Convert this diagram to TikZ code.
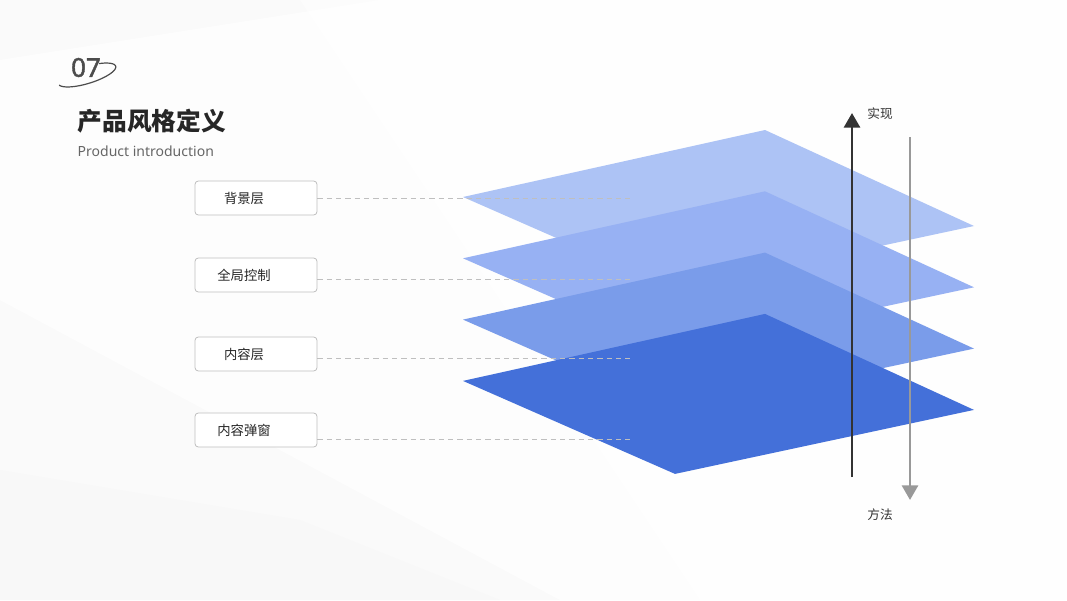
\documentclass[tikz,border=0pt]{standalone}
\usepackage{fontspec}
\setmainfont{Noto Sans CJK SC}
\newfontfamily\latinfont{Noto Sans}
\newfontfamily\numfont[FakeBold=1.6]{Noto Sans}
\usetikzlibrary{arrows.meta}
\definecolor{layerA}{HTML}{ADC3F5}
\definecolor{layerB}{HTML}{97B1F3}
\definecolor{layerC}{HTML}{7A9CEA}
\definecolor{layerD}{HTML}{4470D9}
\definecolor{inkdark}{HTML}{333333}
\definecolor{inkgray}{HTML}{999999}
\tikzset{
  tag/.style={draw=black!25, fill=white, rounded corners=2.5pt, line width=0.6pt,
    minimum width=91.5pt, minimum height=25.5pt,
    label={[font=\fontsize{10}{11}\selectfont, text=black!85, xshift=-9pt]center:#1}},
  guide/.style={draw=black!25, dashed, dash pattern=on 4pt off 3pt, line width=0.5pt},
  sidelabel/.style={font=\fontsize{9.5}{11}\selectfont, text=black!80}
}
\begin{document}
\begin{tikzpicture}[x=0.75pt, y=-0.75pt, >=stealth]
\useasboundingbox (0,0) rectangle (1067,600);
\fill[black!2] (0,0) rectangle (1067,600);
\fill[white, opacity=0.7] (0,60) -- (380,0) -- (1067,0) -- (1067,600) -- (560,600) -- (0,300) -- cycle;
\fill[white, opacity=0.5] (300,0) -- (1067,0) -- (1067,600) -- (700,600) -- cycle;
\fill[black!4, opacity=0.4] (0,470) -- (300,520) -- (500,600) -- (0,600) -- cycle;

\node[text=black!70, font=\numfont\fontsize{19.5}{20}\selectfont] (num) at (86,67.5) {07};
\draw[black!70, line width=0.9pt] plot[domain=190:420, samples=60, variable=\t]
  ({87+30*cos(\t)*cos(17)-8.5*sin(\t)*sin(17)}, {75-(30*cos(\t)*sin(17)+8.5*sin(\t)*cos(17))});
\node[anchor=west, font=\fontsize{18.5}{19}\selectfont\bfseries, text=black!85] (title) at (73,121) {产品风格定义};
\node[anchor=west, font=\latinfont\fontsize{10.5}{12}\selectfont, text=black!60] (sub) at (73,151) {Product introduction};

\foreach \i/\c in {0/layerA,1/layerB,2/layerC,3/layerD}
  \fill[\c] (463,197+61.3*\i) -- ++(302,-67) -- ++(209,96) -- ++(-299,64) -- cycle;

\node[tag=背景层] (bg) at (256,198) {};
\node[tag=全局控制] (gc) at (256,275) {};
\node[tag=内容层] (ct) at (256,354) {};
\node[tag=内容弹窗] (pp) at (256,430) {};
\coordinate (bgE) at (630,198);
\coordinate (gcE) at (630,279);
\coordinate (ctE) at (630,358);
\coordinate (ppE) at (630,439);
\draw[guide] (bg.east) -- (bgE);
\draw[guide] (gc.east |- gcE) -- (gcE);
\draw[guide] (ct.east |- ctE) -- (ctE);
\draw[guide] (pp.east |- ppE) -- (ppE);

\coordinate (upS) at (852,477);
\coordinate (upE) at (852,113);
\coordinate (dnS) at (910,137);
\coordinate (dnE) at (910,500);
\draw[inkdark, line width=2.2pt, -{Triangle[width=12pt,length=11pt]}] (upS) -- (upE);
\draw[inkgray, line width=2.2pt, -{Triangle[width=12pt,length=11pt]}] (dnS) -- (dnE);
\node[sidelabel] (real) at (880,114) {实现};
\node[sidelabel] (meth) at (880,515) {方法};
\end{tikzpicture}
\end{document}
